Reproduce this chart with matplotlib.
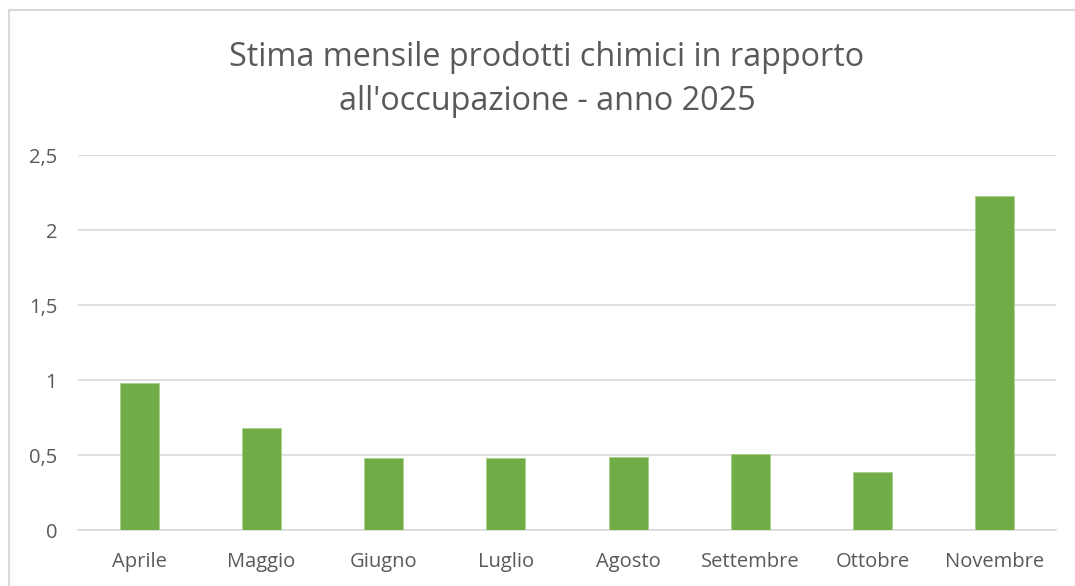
import matplotlib.pyplot as plt
from matplotlib.lines import Line2D
from matplotlib.ticker import FuncFormatter

mesi = ['Aprile', 'Maggio', 'Giugno', 'Luglio', 'Agosto', 'Settembre', 'Ottobre', 'Novembre']
valori = [0.98, 0.68, 0.48, 0.48, 0.49, 0.51, 0.39, 2.225]
yticks = [0, 0.5, 1, 1.5, 2, 2.5]

plt.rcParams['font.family'] = ['Open Sans', 'DejaVu Sans']

fig = plt.figure(figsize=(10.75, 5.86), dpi=100)
ax = fig.add_axes([78 / 1075, 1 - 530 / 586, (1056 - 78) / 1075, (530 - 155) / 586])

x = range(len(mesi))
ax.bar(x, valori, width=0.32, color='#70AD47', edgecolor='#A9D18E', linewidth=0.6, zorder=3)

ax.set_xlim(-0.5, len(mesi) - 0.5)
ax.set_ylim(0, 2.5)
ax.set_yticks(yticks)
ax.yaxis.set_major_formatter(FuncFormatter(lambda v, p: f'{v:g}'.replace('.', ',')))
ax.set_xticks(list(x))
ax.set_xticklabels(mesi)
ax.grid(axis='y', color='#D9D9D9', linewidth=1.2, zorder=0)
for s in ['top', 'right', 'left']:
    ax.spines[s].set_visible(False)
ax.spines['bottom'].set_color('#D9D9D9')
ax.spines['bottom'].set_linewidth(1.2)
ax.tick_params(axis='both', length=0, colors='#595959', labelsize=14.5)
ax.tick_params(axis='y', pad=15)
ax.tick_params(axis='x', pad=16)

# titolo su due righe
xt = 547 / 1075
fig.text(xt, 1 - 57 / 586, 'Stima mensile prodotti chimici in rapporto', ha='center', va='center',
         fontsize=23.3, color='#595959')
fig.text(xt, 1 - 101 / 586, "all'occupazione - anno 2025", ha='center', va='center',
         fontsize=23.3, color='#595959')

# cornice del grafico
fig.add_artist(Line2D([9 / 1075, 9 / 1075], [0, 1 - 10 / 586], color='#D9D9D9', linewidth=1.5))
fig.add_artist(Line2D([9 / 1075, 1], [1 - 10 / 586, 1 - 10 / 586], color='#D9D9D9', linewidth=1.5))

fig.savefig('out.png', dpi=100)
